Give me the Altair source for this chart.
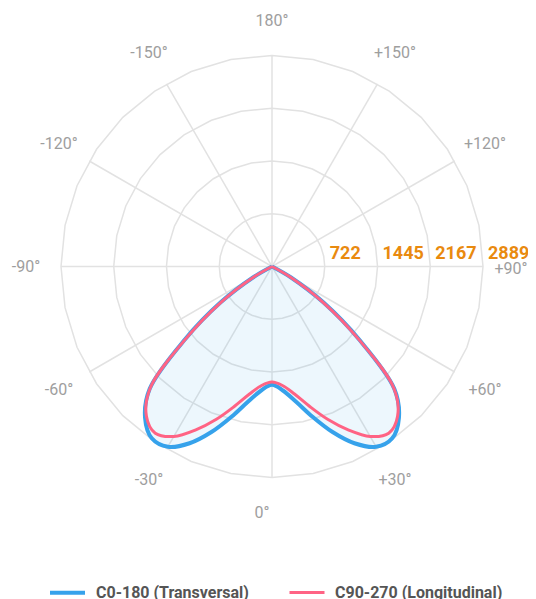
import altair as alt
import pandas as pd
import numpy as np

# ---------------- data ----------------
SERIES = ["C0-180 (Transversal)", "C90-270 (Longitudinal)"]
COLORS = ["#36A2EB", "#FF6384"]

# gamma angle (0 = straight down, + to the right)
ANGLES = [-70, -65, -60, -55, -50, -45, -40, -35, -30, -25, -20, -15, -10, -5,
          0, 5, 10, 15, 20, 25, 30, 35, 40, 45, 50, 55, 60, 65, 70]
C0_180 = [0, 0, 301, 862, 1561, 2368, 2704, 2870, 2850, 2670, 2408, 2126, 1876, 1704,
          1620, 1704, 1876, 2126, 2408, 2670, 2850, 2870, 2704, 2368, 1561, 862, 301, 0, 0]
C90_270 = [0, 0, 288, 849, 1547, 2362, 2675, 2786, 2687, 2468, 2226, 1981, 1773, 1636,
           1583, 1636, 1773, 1981, 2226, 2468, 2687, 2786, 2675, 2362, 1547, 849, 288, 0, 0]

RINGS = [722, 1445, 2167, 2889]
RING_LABELS = ["722", "1445", "2167", "2889"]
SPOKES = [-150, -120, -90, -60, -30, 0, 30, 60, 90, 120, 150, 180]
LABEL_ANGLES = [180, -150, -120, -90, -60, -30, 30, 60, 120, 150]
LABEL_TEXT = ["180°", "-150°", "-120°", "-90°", "-60°", "-30°", "+30°", "+60°", "+120°", "+150°"]
ZERO_LABEL = ["0°"]
RIGHT_LABEL = ["+90°"]

MAXV = RINGS[-1]
LABEL_R = MAXV * 246 / 211

# ---------------- tables ----------------
curves = pd.DataFrame({
    "series": [SERIES[0]] * len(ANGLES) + [SERIES[1]] * len(ANGLES),
    "a": ANGLES + ANGLES,
    "r": C0_180 + C90_270,
    "idx": list(range(len(ANGLES))) * 2,
})

ring_rows = []
for v in RINGS:
    for k in range(33):
        ring_rows.append({"ring": v, "k": k, "a": k * 11.25, "r": v})
rings = pd.DataFrame(ring_rows)
spokes = pd.DataFrame({"a": SPOKES, "r": [MAXV] * len(SPOKES)})
ringlab = pd.DataFrame({"v": RINGS, "t": RING_LABELS, "z": [0] * len(RINGS)})
anglab = pd.DataFrame({"a": LABEL_ANGLES, "t": LABEL_TEXT, "r": [LABEL_R] * len(LABEL_ANGLES)})
zerolab = pd.DataFrame({"a": [0], "t": ZERO_LABEL, "r": [LABEL_R]})
rightlab = pd.DataFrame({"a": [90], "t": RIGHT_LABEL, "r": [LABEL_R]})

xs = alt.Scale(domain=[-MAXV, MAXV], range=[53, 475], nice=False)
ys = alt.Scale(domain=[-MAXV, MAXV], range=[47.5, 469.5], nice=False)

def polar(ch):
    return ch.transform_calculate(
        px="datum.r * sin(datum.a * PI / 180)",
        py="datum.r * cos(datum.a * PI / 180)",
    )

X = alt.X("px:Q", scale=xs, axis=None)
Y = alt.Y("py:Q", scale=ys, axis=None)

ring_layer = polar(alt.Chart(rings).mark_line(stroke="#e2e2e2", strokeWidth=1.5)).encode(
    x=X, y=Y, detail="ring:N", order="k:Q")

spoke_layer = alt.Chart(spokes).mark_rule(stroke="#e2e2e2", strokeWidth=1.5).transform_calculate(
    px="0", py="0",
    px2="datum.r * sin(datum.a * PI / 180)",
    py2="datum.r * cos(datum.a * PI / 180)",
).encode(x=X, y=Y, x2="px2:Q", y2="py2:Q")

fill_layer = polar(alt.Chart(curves).mark_line(
    fill="#36A2EB", fillOpacity=0.09, strokeOpacity=0, interpolate="catmull-rom"
)).transform_filter(alt.datum.series == SERIES[0]).encode(x=X, y=Y, order="idx:Q")

line_layer = polar(alt.Chart(curves).mark_line(interpolate="catmull-rom", strokeJoin="round")).encode(
    x=X, y=Y, order="idx:Q",
    color=alt.Color("series:N", scale=alt.Scale(domain=SERIES, range=COLORS),
                    legend=alt.Legend(orient="none", legendX=40, legendY=565, direction="horizontal",
                                      title=None, symbolType="stroke", symbolSize=1225,
                                      symbolStrokeWidth=5, labelFont="Roboto", labelFontSize=16,
                                      labelFontWeight="bold", labelColor="#555555", labelOffset=9,
                                      columnPadding=34, padding=0, labelLimit=400)),
    strokeWidth=alt.StrokeWidth("series:N", scale=alt.Scale(domain=SERIES, range=[4, 3]), legend=None),
)

ringlab_layer = alt.Chart(ringlab).mark_text(
    align="left", baseline="alphabetic", dx=5, dy=-8, font="Roboto", fontSize=18,
    fontWeight="bold", color="#E98A0F"
).encode(x=alt.X("v:Q", scale=xs, axis=None), y=alt.Y("z:Q", scale=ys, axis=None), text="t:N")

anglab_layer = polar(alt.Chart(anglab).mark_text(
    align="center", baseline="middle", font="Roboto", fontSize=16, color="#9e9e9e"
)).encode(x=X, y=Y, text="t:N")

zerolab_layer = polar(alt.Chart(zerolab).mark_text(
    align="center", baseline="middle", dx=-10, font="Roboto", fontSize=16, color="#9e9e9e"
)).encode(x=X, y=Y, text="t:N")

rightlab_layer = polar(alt.Chart(rightlab).mark_text(
    align="center", baseline="middle", dx=-7, dy=2, font="Roboto", fontSize=16, color="#9e9e9e"
)).encode(x=X, y=Y, text="t:N")

chart = alt.layer(
    ring_layer, spoke_layer, fill_layer, line_layer, ringlab_layer, anglab_layer,
    zerolab_layer, rightlab_layer
).properties(
    width=520, height=591, padding=0,
    autosize=alt.AutoSizeParams(type="none"),
).configure(font="Roboto").configure_view(strokeWidth=0, stroke=None)

chart.save("out.html", embed_options={"renderer": "svg", "actions": False})
